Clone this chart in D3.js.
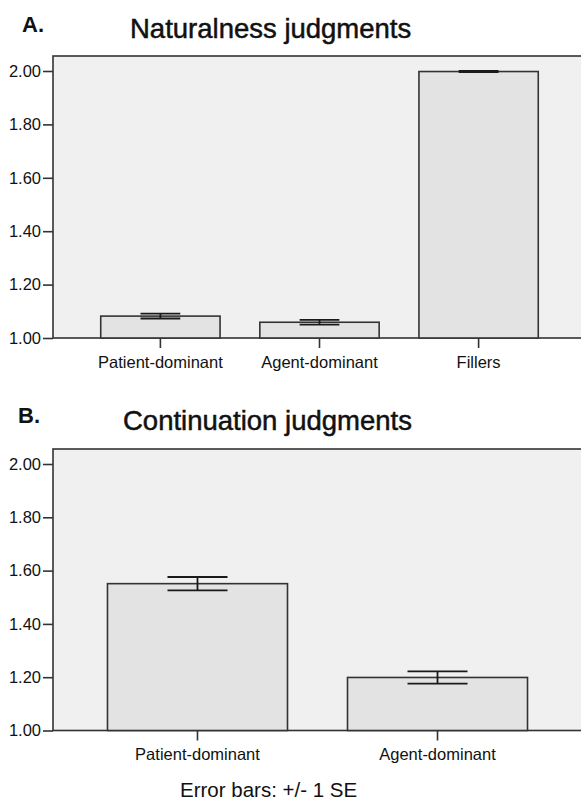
<!DOCTYPE html>
<html>
<head>
<meta charset="utf-8">
<script src="https://cdn.jsdelivr.net/npm/d3@7"></script>
<style>
  body { margin: 0; background: #fff; }
  svg text { font-family: "Liberation Sans", Arial, sans-serif; fill: #111; }
</style>
</head>
<body>
<svg id="chart"></svg>
<script>
// data
const cats_a  = ["Patient-dominant", "Agent-dominant", "Fillers"];
const means_a = [1.082, 1.059, 1.998];
const se_a    = [0.009, 0.009, 0.002];

const cats_b  = ["Patient-dominant", "Agent-dominant"];
const means_b = [1.551, 1.199];
const se_b    = [0.025, 0.023];

const y_ticks = [1.00, 1.20, 1.40, 1.60, 1.80, 2.00];

const W = 581, H = 802;
const $svg = d3.select('#chart').attr('width', W).attr('height', H);

// one bar panel, frame + axes + bars + error bars
const drawPanel = function(opt) {
  const g = $svg.append('g');

  const x = d3.scaleBand()
    .domain(opt.cats)
    .range([opt.left, opt.right])
    .paddingInner(0.25)
    .paddingOuter(opt.outer);

  const y = d3.scaleLinear()
    .domain([1, 2])
    .range([opt.base, opt.top2]);

  // plot area
  g.append('rect')
    .attr('x', opt.left).attr('y', opt.frameTop)
    .attr('width', opt.right - opt.left).attr('height', opt.base - opt.frameTop)
    .attr('fill', '#f0f0f0')
    .attr('stroke', '#333').attr('stroke-width', 1.6);

  const rows = opt.cats.map((c, i) => ({cat: c, m: opt.means[i], se: opt.se[i]}));

  g.selectAll('.bar').data(rows).join('rect')
    .attr('class', 'bar')
    .attr('x', d => x(d.cat))
    .attr('y', d => y(d.m))
    .attr('width', x.bandwidth())
    .attr('height', d => y(1) - y(d.m))
    .attr('fill', '#e3e3e3')
    .attr('stroke', '#333').attr('stroke-width', 1.6);

  // error bars +/- 1 SE
  const cap = x.bandwidth() / 3;
  const eb = g.selectAll('.eb').data(rows).join('g').attr('class', 'eb')
    .attr('stroke', '#1a1a1a').attr('stroke-width', 1.8);
  eb.append('line')
    .attr('x1', d => x(d.cat) + x.bandwidth() / 2)
    .attr('x2', d => x(d.cat) + x.bandwidth() / 2)
    .attr('y1', d => y(d.m + d.se)).attr('y2', d => y(d.m - d.se));
  eb.append('line')
    .attr('x1', d => x(d.cat) + x.bandwidth() / 2 - cap / 2)
    .attr('x2', d => x(d.cat) + x.bandwidth() / 2 + cap / 2)
    .attr('y1', d => y(d.m + d.se)).attr('y2', d => y(d.m + d.se));
  eb.append('line')
    .attr('x1', d => x(d.cat) + x.bandwidth() / 2 - cap / 2)
    .attr('x2', d => x(d.cat) + x.bandwidth() / 2 + cap / 2)
    .attr('y1', d => y(d.m - d.se)).attr('y2', d => y(d.m - d.se));

  // axes
  const yAxis = d3.axisLeft(y).tickValues(y_ticks).tickFormat(d3.format('.2f'))
    .tickSize(10).tickPadding(2);
  const ga = g.append('g').attr('transform', `translate(${opt.left},0)`).call(yAxis);
  ga.select('.domain').remove();
  ga.selectAll('line').attr('stroke', '#333').attr('stroke-width', 1.6);
  ga.selectAll('text').attr('font-size', 16.5).attr('fill', '#111');

  const xAxis = d3.axisBottom(x).tickSize(10).tickPadding(8);
  const gx = g.append('g').attr('transform', `translate(0,${opt.base})`).call(xAxis);
  gx.select('.domain').remove();
  gx.selectAll('line').attr('stroke', '#333').attr('stroke-width', 1.6);
  gx.selectAll('text').attr('font-size', 16.5).attr('fill', '#111');

  // titles
  $svg.append('text').attr('x', opt.letterX).attr('y', opt.letterY)
    .attr('font-size', 22).attr('font-weight', 'bold').text(opt.letter);
  $svg.append('text').attr('x', opt.titleX).attr('y', opt.titleY)
    .attr('font-size', 27.5)
    .attr('stroke', '#111').attr('stroke-width', 0.5)
    .text(opt.title);
};

drawPanel({
  cats: cats_a, means: means_a, se: se_a,
  left: 53, right: 586, outer: 0.3,
  frameTop: 56, top2: 71, base: 338,
  letter: 'A.', letterX: 22, letterY: 32,
  title: 'Naturalness judgments', titleX: 130, titleY: 38
});

drawPanel({
  cats: cats_b, means: means_b, se: se_b,
  left: 53, right: 582, outer: 0.227,
  frameTop: 449, top2: 464, base: 730.5,
  letter: 'B.', letterX: 18, letterY: 423,
  title: 'Continuation judgments', titleX: 123, titleY: 430
});

$svg.append('text').attr('x', 180).attr('y', 797)
  .attr('font-size', 20.5).attr('fill', '#222').text('Error bars: +/- 1 SE');
</script>
</body>
</html>
